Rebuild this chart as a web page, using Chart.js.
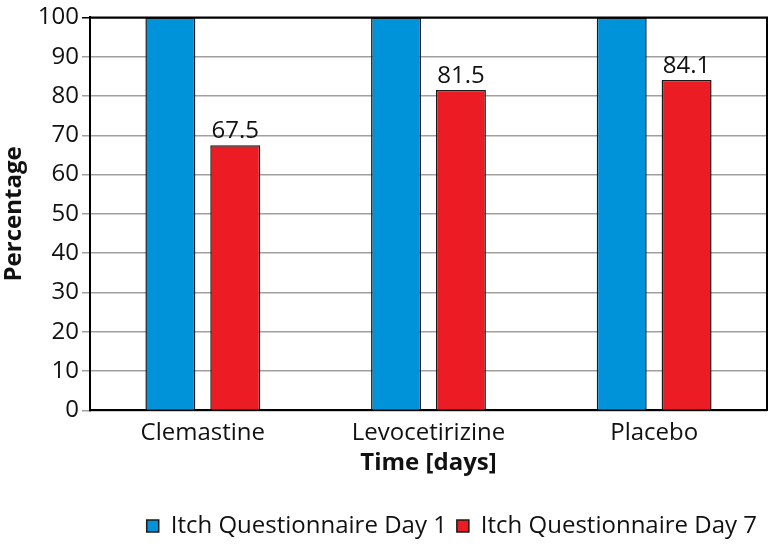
<!DOCTYPE html>
<html lang="en">
<head>
    <meta charset="UTF-8">
    <title>Itch Questionnaire</title>
    <style>
        body {
            margin: 0;
            background: #ffffff;
        }
        #chart {
            display: block;
        }
    </style>
    <script src="https://cdn.jsdelivr.net/npm/chart.js"></script>
</head>
<body>
    <canvas id="chart" width="769" height="548"></canvas>

    <script>
        // values
        const categories = ['Clemastine', 'Levocetirizine', 'Placebo'];
        const day1Values = [100, 100, 100];
        const day7Values = [67.5, 81.5, 84.1];
        const yTicks = [0, 10, 20, 30, 40, 50, 60, 70, 80, 90, 100];

        const fontFamily = '"Open Sans", "Noto Sans", sans-serif';

        // value labels above the red bars
        const valueLabels = {
            id: 'valueLabels',
            afterDatasetsDraw(chart) {
                const ctx = chart.ctx;
                const meta = chart.getDatasetMeta(1);
                ctx.save();
                ctx.font = '24px ' + fontFamily;
                ctx.fillStyle = '#111';
                ctx.textAlign = 'center';
                ctx.textBaseline = 'bottom';
                meta.data.forEach((bar, i) => {
                    ctx.fillText(String(day7Values[i]), bar.x, bar.y - 2);
                });
                ctx.restore();
            }
        };

        // black frame on top and right of the plot area
        const frame = {
            id: 'frame',
            afterDatasetsDraw(chart) {
                const a = chart.chartArea;
                const ctx = chart.ctx;
                ctx.save();
                ctx.strokeStyle = '#000';
                ctx.lineWidth = 2;
                ctx.beginPath();
                ctx.moveTo(a.left, a.top);
                ctx.lineTo(a.right, a.top);
                ctx.lineTo(a.right, a.bottom);
                ctx.stroke();
                ctx.restore();
            }
        };

        new Chart(document.getElementById('chart'), {
            type: 'bar',
            data: {
                labels: categories,
                datasets: [
                    {
                        label: 'Itch Questionnaire Day 1',
                        data: day1Values,
                        backgroundColor: '#0093d9',
                        borderColor: '#1a1a1a',
                        borderWidth: 1.5,
                        categoryPercentage: 0.575,
                        barPercentage: 0.77
                    },
                    {
                        label: 'Itch Questionnaire Day 7',
                        data: day7Values,
                        backgroundColor: '#ec1c24',
                        borderColor: '#1a1a1a',
                        borderWidth: 1.5,
                        categoryPercentage: 0.575,
                        barPercentage: 0.77
                    }
                ]
            },
            options: {
                responsive: false,
                animation: false,
                layout: {
                    padding: { top: 4, right: 2, left: 0, bottom: 0 }
                },
                scales: {
                    x: {
                        grid: { display: false, drawTicks: false },
                        border: { color: '#000', width: 2 },
                        ticks: {
                            color: '#111',
                            padding: 8,
                            font: { family: fontFamily, size: 24 }
                        },
                        title: {
                            display: true,
                            text: 'Time [days]',
                            color: '#111',
                            padding: { top: -6, bottom: 26 },
                            font: { family: fontFamily, size: 24, weight: 'bold' }
                        }
                    },
                    y: {
                        min: 0,
                        max: 100,
                        afterBuildTicks(axis) {
                            axis.ticks = yTicks.map(v => ({ value: v }));
                        },
                        grid: {
                            color: ctx => ctx.tick && ctx.tick.value === 100 ? '#000' : '#a0a0a0',
                            lineWidth: 1.5,
                            tickLength: 8
                        },
                        border: { color: '#000', width: 2 },
                        ticks: {
                            color: '#111',
                            padding: 3,
                            font: { family: fontFamily, size: 24 }
                        },
                        title: {
                            display: true,
                            text: 'Percentage',
                            color: '#111',
                            padding: { top: 0, bottom: 6 },
                            font: { family: fontFamily, size: 24, weight: 'bold' }
                        }
                    }
                },
                plugins: {
                    legend: {
                        position: 'bottom',
                        align: 'end',
                        labels: {
                            color: '#111',
                            boxWidth: 12,
                            boxHeight: 12,
                            padding: 10,
                            font: { family: fontFamily, size: 24 }
                        }
                    },
                    tooltip: { enabled: false }
                }
            },
            plugins: [valueLabels, frame]
        });
    </script>
</body>
</html>
